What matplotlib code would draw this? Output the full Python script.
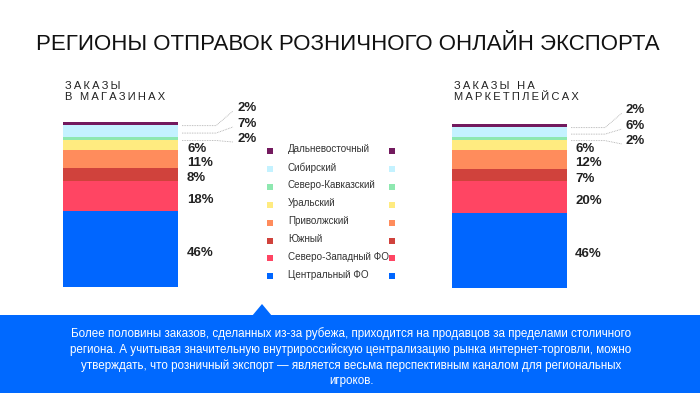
import matplotlib
matplotlib.use('Agg')
import matplotlib.pyplot as plt
from matplotlib.patches import Polygon, Rectangle

# --- Data ---
regions = ['Центральный ФО', 'Северо-Западный ФО', 'Южный', 'Приволжский',
           'Уральский', 'Северо-Кавказский', 'Сибирский', 'Дальневосточный']
shops = [46, 18, 8, 11, 6, 2, 7, 2]
markets = [46, 20, 7, 12, 6, 2, 6, 2]
colors = ['#0066FF', '#FF4563', '#D0423C', '#FF8C5C',
          '#FFEB80', '#8EE8B0', '#C4F2FF', '#731A5E']

title = 'РЕГИОНЫ ОТПРАВОК РОЗНИЧНОГО ОНЛАЙН ЭКСПОРТА'
sub_left = ['ЗАКАЗЫ', 'В МАГАЗИНАХ']
sub_right = ['ЗАКАЗЫ НА', 'МАРКЕТПЛЕЙСАХ']
note = ('Более половины заказов, сделанных из-за рубежа, приходится на продавцов за пределами столичного\n'
        'региона. А учитывая значительную внутрироссийскую централизацию рынка интернет-торговли, можно\n'
        'утверждать, что розничный экспорт — является весьма перспективным каналом для региональных\n'
        'игроков.')

plt.rcParams['font.family'] = ['Liberation Sans', 'DejaVu Sans']

W, H = 700, 393
fig = plt.figure(figsize=(7, 3.93), dpi=100)

# overlay axes in pixel coordinates (y down)
ov = fig.add_axes([0, 0, 1, 1])
ov.set_xlim(0, W)
ov.set_ylim(H, 0)
ov.axis('off')


def px_axes(x0, y0, x1, y1):
    return fig.add_axes([x0 / W, 1 - y1 / H, (x1 - x0) / W, (y1 - y0) / H])


def to_px(ax, x, y):
    return ov.transData.inverted().transform(ax.transData.transform((x, y)))


def spaced(s):
    # letter spacing with thin spaces
    return '\u2009'.join(s)


def stacked(ax, values, lab_x, top_x, top_ys):
    bottom = 0
    mids = []
    for v, c in zip(values, colors):
        ax.bar(0, v, bottom=bottom, width=1, color=c, linewidth=0)
        mids.append(bottom + v / 2)
        bottom += v
    ax.set_xlim(-0.5, 0.5)
    ax.set_ylim(0, bottom)
    ax.axis('off')
    # labels of the five lower segments
    for v, m in zip(values[:5], mids[:5]):
        px = to_px(ax, 0.5, m)
        ov.text(lab_x, px[1] + 3.5, f'{v}%', fontsize=9.5, fontweight='bold',
                va='center', ha='left', color='#222222')
    # three small top segments with dotted leaders
    for v, m, ty in zip(values[5:][::-1], mids[5:][::-1], top_ys):
        px = to_px(ax, 0.5, m)
        xe = px[0]
        ov.plot([xe + 4, xe + 38, top_x - 4], [px[1] + 2, px[1] + 2, ty + 3],
                color='#aaaaaa', lw=0.6, ls=(0, (1, 1)))
        ov.text(top_x, ty, f'{v}%', fontsize=9.5, fontweight='bold',
                va='center', ha='left', color='#222222')


ax1 = px_axes(63, 122, 178, 287)
stacked(ax1, shops, 187, 237, [108, 124, 139])
ax2 = px_axes(452, 124, 567, 288)
stacked(ax2, markets, 575, 626, [110, 126, 141])

# title and subtitles
ov.text(348, 45, title, fontsize=16, ha='center', va='center', color='#111111')
for x0, lines in [(65, sub_left), (454, sub_right)]:
    for k, line in enumerate(lines):
        ov.text(x0, 86 + k * 11.5, spaced(line), fontsize=8.0, ha='left',
                va='center', color='#222222')

# legend
for i, (name, c) in enumerate(zip(regions[::-1], colors[::-1])):
    y = 151 + i * 17.9
    ov.add_patch(Rectangle((267, y - 3), 6, 6, color=c, lw=0))
    ov.add_patch(Rectangle((389, y - 3), 6, 6, color=c, lw=0))
    ov.text(288, y - 1.5, name, fontsize=7.1, ha='left', va='center', color='#333333')

# blue note box with pointer
ov.add_patch(Rectangle((0, 315), W, H - 315, color='#0069FF', lw=0))
ov.add_patch(Polygon([(252, 316), (262, 304), (272, 316)], closed=True,
                     color='#0069FF', lw=0))
ov.text(351, 357, note, fontsize=8.4, ha='center', va='center', color='white',
        linespacing=1.38)

fig.savefig('out.png', dpi=100)
